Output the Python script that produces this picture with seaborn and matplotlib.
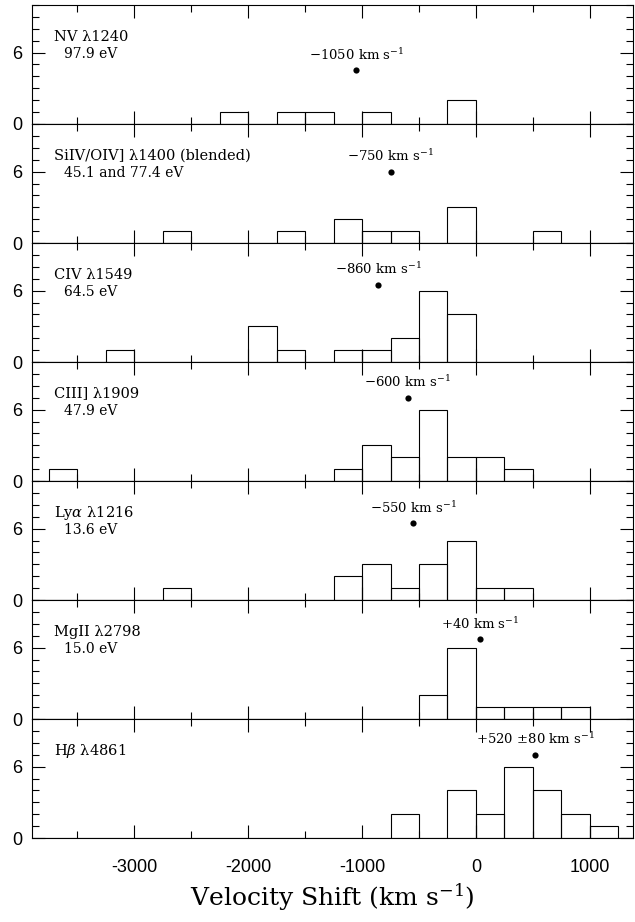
import numpy as np
import pandas as pd
import matplotlib
matplotlib.use("Agg")
import matplotlib.pyplot as plt
from matplotlib.ticker import MultipleLocator, FixedLocator
import seaborn as sns

sns.set_theme(style="white")
plt.rcParams["font.family"] = ["Liberation Sans", "DejaVu Sans"]
plt.rcParams["mathtext.fontset"] = "dejavuserif"
plt.rcParams["axes.unicode_minus"] = False
plt.rcParams["text.color"] = "black"
plt.rcParams["xtick.color"] = "black"
plt.rcParams["ytick.color"] = "black"
plt.rcParams["axes.labelcolor"] = "black"

# ── data: bin centres (km/s, 250 km/s bins) and counts per line ─────────────
line_names = ["NV λ1240", "SiIV/OIV] λ1400 (blended)", "CIV λ1549",
              "CIII] λ1909", r"Ly$\alpha$ λ1216", "MgII λ2798",
              r"H$\beta$ λ4861"]
energies = ["97.9 eV", "45.1 and 77.4 eV", "64.5 eV", "47.9 eV",
            "13.6 eV", "15.0 eV", ""]

nv_vel   = [-2125, -1625, -1375, -875, -125]
nv_cnt   = [1, 1, 1, 1, 2]
siiv_vel = [-2625, -1625, -1125, -875, -625, -125, 625]
siiv_cnt = [1, 1, 2, 1, 1, 3, 1]
civ_vel  = [-3125, -1875, -1625, -1125, -875, -625, -375, -125]
civ_cnt  = [1, 3, 1, 1, 1, 2, 6, 4]
ciii_vel = [-3625, -1125, -875, -625, -375, -125, 125, 375]
ciii_cnt = [1, 1, 3, 2, 6, 2, 2, 1]
lya_vel  = [-2625, -1125, -875, -625, -375, -125, 125, 375]
lya_cnt  = [1, 2, 3, 1, 3, 5, 1, 1]
mgii_vel = [-375, -125, 125, 375, 625, 875]
mgii_cnt = [2, 6, 1, 1, 1, 1]
hb_vel   = [-625, -125, 125, 375, 625, 875, 1125]
hb_cnt   = [2, 4, 2, 6, 4, 2, 1]

mean_shift = [-1050, -750, -860, -600, -550, 40, 520]
mean_y     = [4.5, 6.0, 6.5, 7.0, 6.45, 6.7, 7.0]
shift_text = [r"−1050 km s$^{-1}$", r"−750 km s$^{-1}$", r"−860 km s$^{-1}$",
              r"−600 km s$^{-1}$", r"−550 km s$^{-1}$", r"+40 km s$^{-1}$",
              r"+520 $\pm$80 km s$^{-1}$"]

vels = [nv_vel, siiv_vel, civ_vel, ciii_vel, lya_vel, mgii_vel, hb_vel]
cnts = [nv_cnt, siiv_cnt, civ_cnt, ciii_cnt, lya_cnt, mgii_cnt, hb_cnt]

BIN_EDGES = list(range(-4000, 1501, 250))
SERIF = ["DejaVu Serif"]

# ── figure ───────────────────────────────────────────────────────────────────
fig, axes = plt.subplots(7, 1, sharex=True, figsize=(6.35, 9.22), dpi=100)
fig.subplots_adjust(left=0.05, right=0.997, bottom=0.091, top=0.9946, hspace=0)

for i, ax in enumerate(axes):
    df = pd.DataFrame({"vel": vels[i], "n": cnts[i]})
    sns.histplot(data=df, x="vel", weights="n", bins=BIN_EDGES,
                 element="bars", fill=False, color="black", linewidth=0.8,
                 ax=ax)
    sns.scatterplot(x=[mean_shift[i]], y=[mean_y[i]], color="black", s=20,
                    edgecolor="black", linewidth=0, ax=ax)
    ax.text(mean_shift[i], mean_y[i] + 1.3, shift_text[i], ha="center",
            va="center", fontsize=9.5, family=SERIF)

    ax.text(0.037, 0.735, line_names[i], transform=ax.transAxes,
            ha="left", va="center", fontsize=10.5, family=SERIF)
    if energies[i]:
        ax.text(0.053, 0.585, energies[i], transform=ax.transAxes,
                ha="left", va="center", fontsize=10, family=SERIF)

    ax.set_xlim(-3900, 1380)
    ax.set_ylim(0, 10)
    ax.set_ylabel("")
    ax.yaxis.set_major_locator(FixedLocator([0, 6]))
    ax.yaxis.set_minor_locator(MultipleLocator(1))
    ax.xaxis.set_major_locator(MultipleLocator(1000))
    ax.xaxis.set_minor_locator(MultipleLocator(500))
    ax.tick_params(which="both", direction="in", top=True, bottom=True,
                   left=True, right=True, color="black", width=0.8)
    ax.tick_params(which="major", length=9.5, labelsize=13)
    ax.tick_params(axis="y", which="major", pad=7)
    ax.tick_params(axis="x", which="major", pad=15)
    ax.tick_params(which="minor", length=5)
    for sp in ax.spines.values():
        sp.set_color("black")
        sp.set_linewidth(0.8)

axes[-1].set_xlabel(r"Velocity Shift (km s$^{-1}$)", fontsize=18,
                    family=SERIF, labelpad=4)

fig.savefig("out.png", dpi=100)
